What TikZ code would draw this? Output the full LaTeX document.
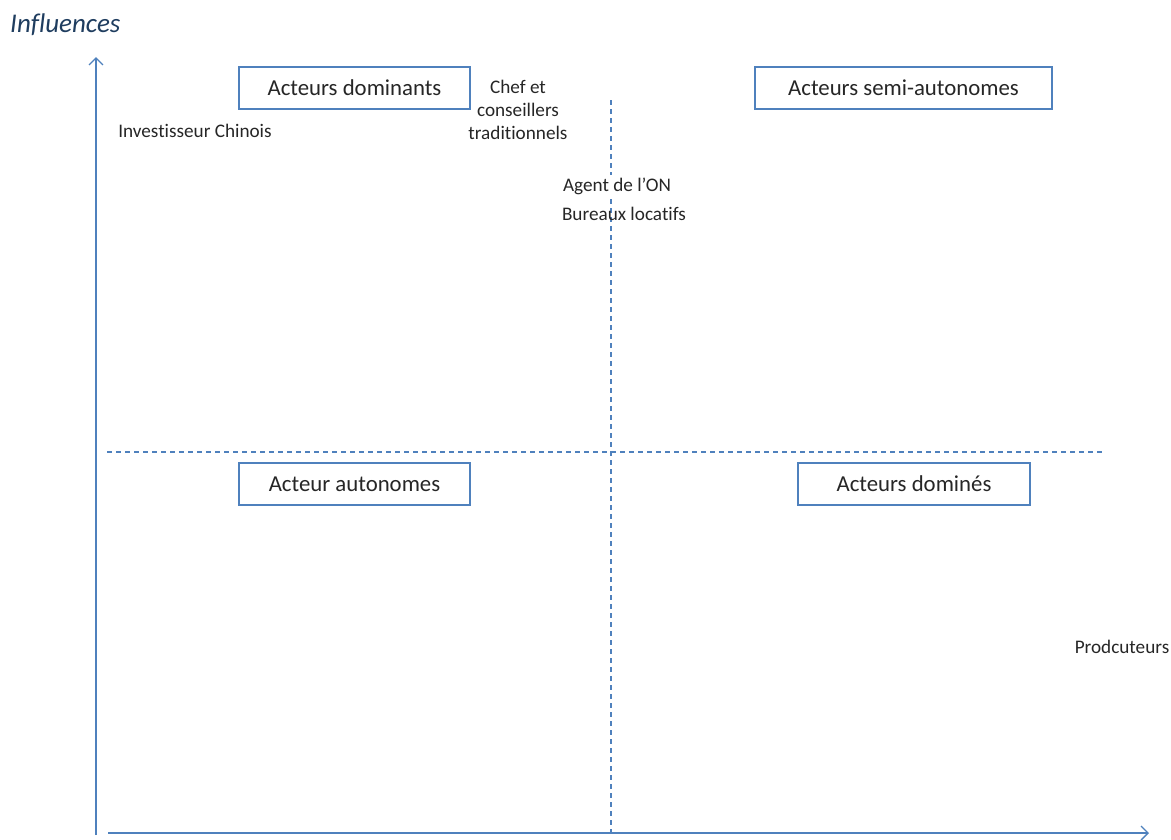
\documentclass[tikz,border=0pt]{standalone}
\usepackage{fontspec}
\setmainfont{Carlito}[Ligatures={NoCommon,NoRare}]
\usetikzlibrary{arrows.meta}
\definecolor{ax}{HTML}{4F81BD}
\definecolor{inf}{HTML}{1F3D5F}
\tikzset{
  box/.style={draw=ax, line width=1.3pt, minimum width=231pt, minimum height=42pt, inner sep=0pt, font=\fontsize{22.8}{24}\selectfont, text=black!85},
  lbl/.style={font=\fontsize{19.2}{23}\selectfont, text=black!85, inner sep=1pt},
  axis/.style={draw=ax, line width=1.8pt, -{Straight Barb[length=7pt, width=14pt, line width=1.4pt]}},
  dashln/.style={draw=ax, line width=1.1pt, dash pattern=on 5pt off 4pt},
}
\begin{document}
\begin{tikzpicture}[x=1pt,y=-1pt]
\useasboundingbox (0,0) rectangle (1171,839);
% axes
\coordinate (o1) at (96,835);
\coordinate (ytop) at (96,57);
\coordinate (o2) at (108,833);
\coordinate (xend) at (1149,833);
\draw[axis] (o1) -- (ytop);
\draw[axis] (o2) -- (xend);
% dashed lines
\coordinate (h1) at (107,452);
\coordinate (h2) at (1105,452);
\coordinate (v1) at (611,100);
\coordinate (v2) at (611,835);
\draw[dashln] (h1) -- (h2);
\draw[dashln] (v1) -- (v2);
% boxes
\node[box, minimum width=231pt] (dom) at (354.5,88) {Acteurs dominants};
\node[box, minimum width=297pt] (semi) at (903.5,88) {Acteurs semi-autonomes};
\node[box, minimum width=231pt] (auto) at (354.5,484) {Acteur autonomes};
\node[box, minimum width=232pt] (domi) at (914,484) {Acteurs dominés};
% labels
\node[font=\fontsize{27}{30}\selectfont\itshape, text=inf, anchor=west, inner sep=0pt] (infl) at (10,25) {Influences};
\node[lbl] (inv) at (195,131) {Investisseur Chinois};
\node[lbl, align=center] (chef) at (518,110) {Chef et\\conseillers\\traditionnels};
\node[lbl, fill=white, inner sep=3pt] (agent) at (617,186) {Agent de l’ON};
\node[lbl] (bur) at (624,214) {Bureaux locatifs};
\node[lbl] (prod) at (1122,647) {Prodcuteurs};
\end{tikzpicture}
\end{document}
